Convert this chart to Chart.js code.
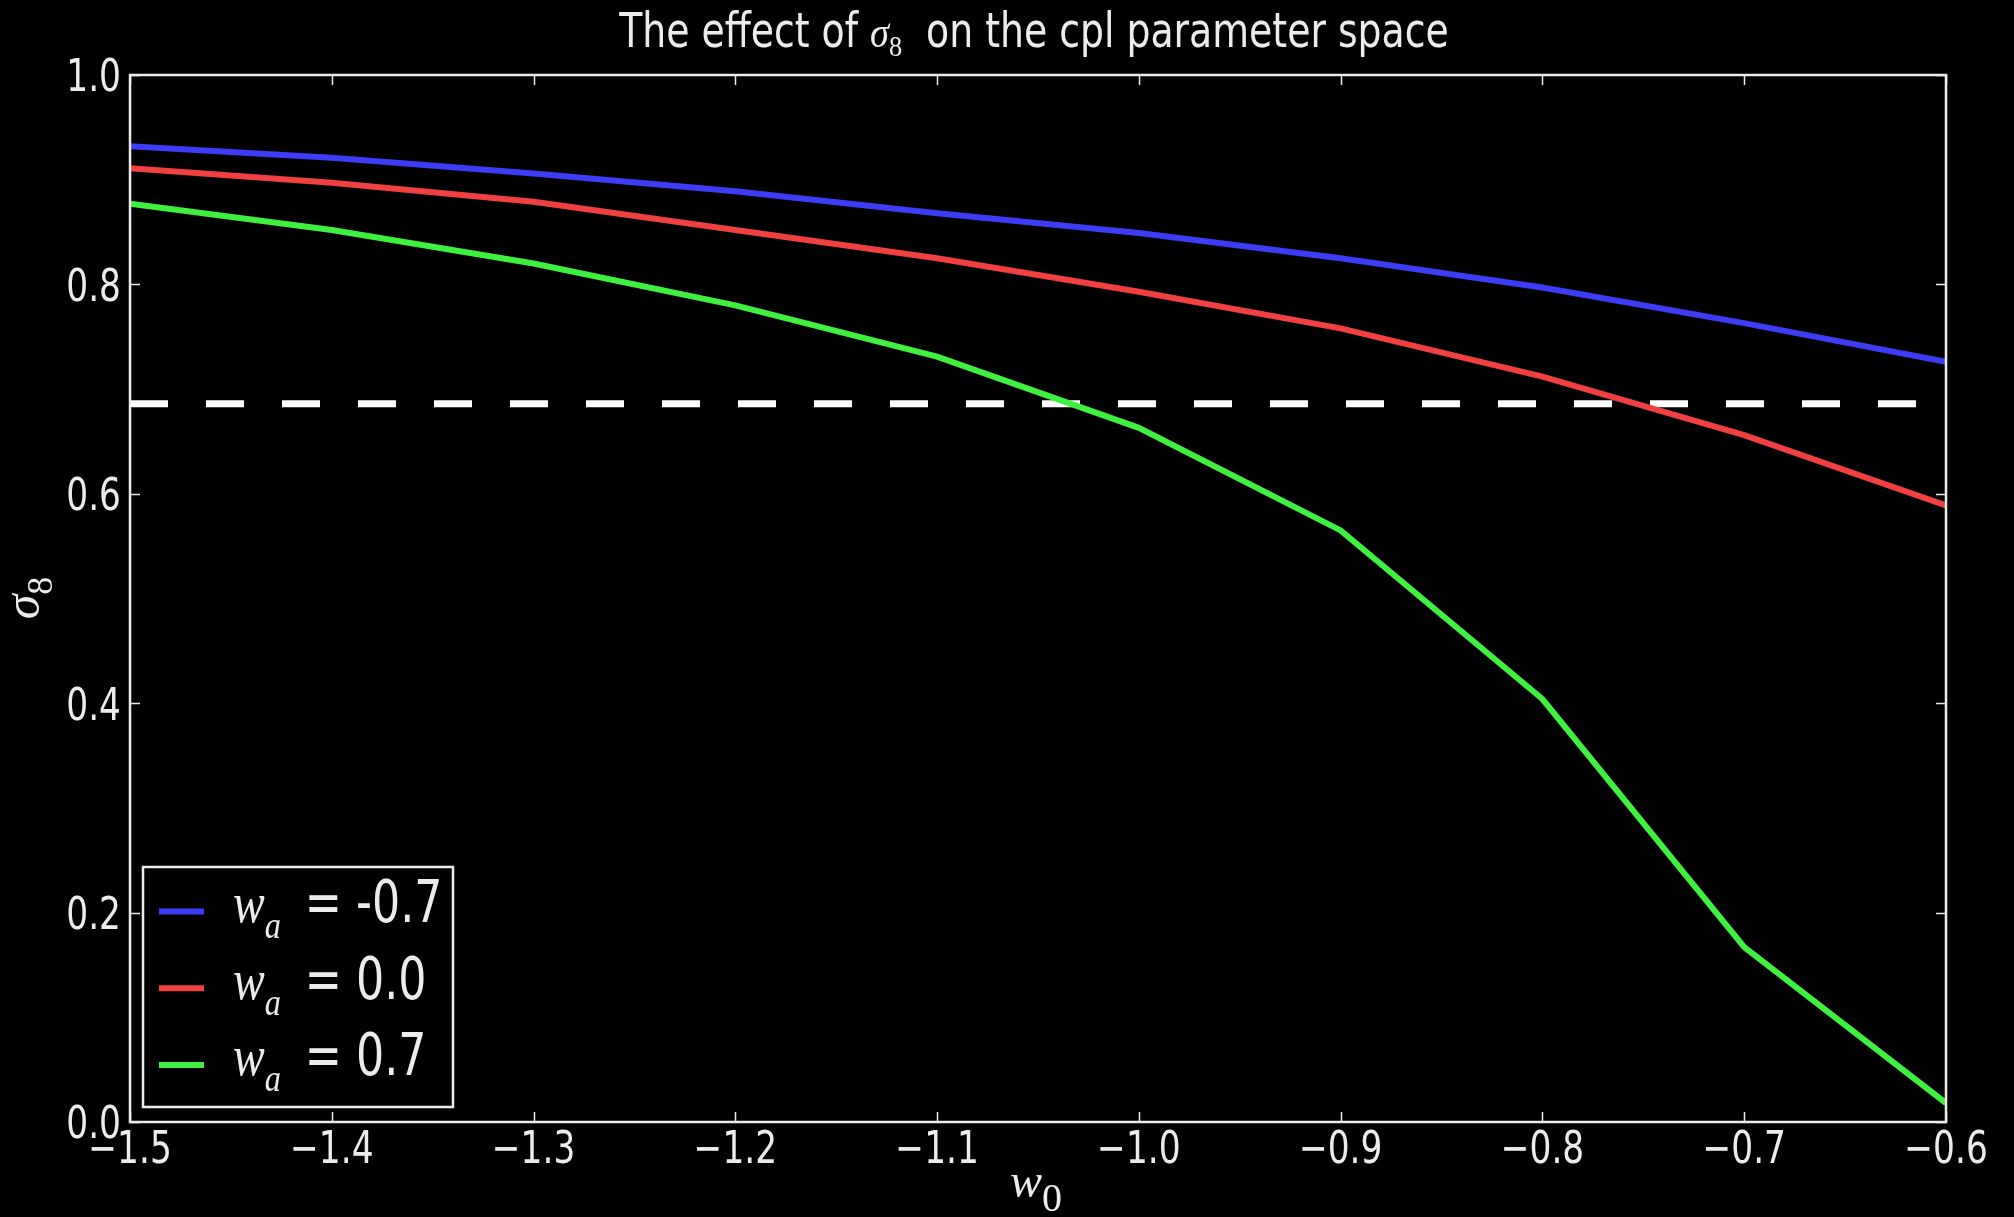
<!DOCTYPE html>
<html>
<head>
<meta charset="utf-8">
<script src="https://cdn.jsdelivr.net/npm/chart.js@4.4.1/dist/chart.umd.min.js"></script>
<style>
  html, body { margin: 0; padding: 0; background: #000; }
  #wrap { width: 2014px; height: 1217px; }
</style>
</head>
<body>
<div id="wrap"><canvas id="c" width="2014" height="1217"></canvas></div>
<script>
// w0 grid of the CPL equation of state, w(a) = w0 + wa (1 - a)
const w0Values = [-1.5, -1.4, -1.3, -1.2, -1.1, -1.0, -0.9, -0.8, -0.7, -0.6];
const waLabels = ['-0.7', '0.0', '0.7'];

// sigma_8 for each w0, one array per wa
const sigma8WaNeg07 = [0.932, 0.921, 0.906, 0.889, 0.868, 0.849, 0.825, 0.797, 0.763, 0.726];
const sigma8Wa00    = [0.911, 0.897, 0.879, 0.852, 0.825, 0.793, 0.758, 0.712, 0.656, 0.589];
const sigma8Wa07    = [0.877, 0.852, 0.820, 0.780, 0.731, 0.663, 0.565, 0.404, 0.167, 0.018];

// horizontal reference level of sigma_8
const sigma8Reference = 0.686;

const xTickValues = [-1.5, -1.4, -1.3, -1.2, -1.1, -1.0, -0.9, -0.8, -0.7, -0.6];
const yTickValues = [0.0, 0.2, 0.4, 0.6, 0.8, 1.0];

const SANS = '"DejaVu Sans Condensed", "DejaVu Sans", sans-serif';
const SERIF = '"Liberation Serif", "DejaVu Serif", serif';
const FG = '#ececec';
const seriesColors = ['#3d3df5', '#f04040', '#40f040'];
const TICK_FONT = `45px ${SANS}`;
const TICK_SQUEEZE = 0.85;

const toPoints = ys => w0Values.map((x, i) => ({ x, y: ys[i] }));
const fmtX = v => (v < 0 ? '\u2212' : '') + Math.abs(v).toFixed(1);
const fmtY = v => Number(v).toFixed(1);

// Draw a row of text runs (mixed fonts, raised/lowered pieces) with a horizontal squeeze
function drawRuns(ctx, runs, x, y, align, sx) {
  ctx.save();
  let total = 0;
  const widths = runs.map(r => {
    ctx.font = r.font;
    const w = ctx.measureText(r.text).width + (r.dx || 0);
    total += w;
    return w;
  });
  let x0 = align === 'center' ? -total / 2 : (align === 'right' ? -total : 0);
  ctx.translate(x, y);
  ctx.scale(sx, 1);
  ctx.textBaseline = 'alphabetic';
  ctx.textAlign = 'left';
  ctx.fillStyle = FG;
  runs.forEach((r, i) => {
    ctx.font = r.font;
    ctx.fillText(r.text, x0 + (r.dx || 0), r.dy || 0);
    x0 += widths[i];
  });
  ctx.restore();
}

const decorations = {
  id: 'decorations',
  afterDatasetsDraw(chart) {
    const { ctx, chartArea: a, scales } = chart;
    ctx.save();
    ctx.strokeStyle = FG;
    ctx.lineWidth = 1.5;
    // inward tick marks on all four sides
    const tl = 10;
    ctx.beginPath();
    scales.x.ticks.forEach(t => {
      const px = Math.round(scales.x.getPixelForValue(t.value)) + 0.5;
      ctx.moveTo(px, a.bottom); ctx.lineTo(px, a.bottom - tl);
      ctx.moveTo(px, a.top); ctx.lineTo(px, a.top + tl);
    });
    scales.y.ticks.forEach(t => {
      const py = Math.round(scales.y.getPixelForValue(t.value)) + 0.5;
      ctx.moveTo(a.left, py); ctx.lineTo(a.left + tl, py);
      ctx.moveTo(a.right, py); ctx.lineTo(a.right - tl, py);
    });
    ctx.stroke();
    // frame
    ctx.lineWidth = 2.5;
    ctx.strokeRect(a.left, a.top, a.right - a.left, a.bottom - a.top);
    ctx.restore();

    // tick labels (narrow face)
    const digitHalf = 0.729 * 45 / 2;
    scales.x.ticks.forEach(t => {
      const px = scales.x.getPixelForValue(t.value);
      drawRuns(ctx, [{ text: fmtX(t.value), font: TICK_FONT }], px, a.bottom + 41, 'center', TICK_SQUEEZE);
    });
    scales.y.ticks.forEach(t => {
      const py = scales.y.getPixelForValue(t.value);
      drawRuns(ctx, [{ text: fmtY(t.value), font: TICK_FONT }], a.left - 9, py + digitHalf, 'right', TICK_SQUEEZE);
    });
  },
  afterDraw(chart) {
    const { ctx, chartArea: a } = chart;
    const cx = (a.left + a.right) / 2;

    // title
    drawRuns(ctx, [
      { text: 'The effect of ', font: `48px ${SANS}` },
      { text: 'σ', font: `italic 44px ${SERIF}` },
      { text: '8', font: `30px ${SERIF}`, dy: 9 },
      { text: '  on the cpl parameter space', font: `48px ${SANS}` }
    ], cx - 4, 47, 'center', 0.875);

    // x axis label
    drawRuns(ctx, [
      { text: 'w', font: `italic 48px ${SERIF}` },
      { text: '0', font: `40px ${SERIF}`, dy: 14 }
    ], cx - 2, 1197, 'center', 1);

    // y axis label (rotated)
    ctx.save();
    ctx.translate(39, 598);
    ctx.rotate(-Math.PI / 2);
    drawRuns(ctx, [
      { text: 'σ', font: `italic 50px ${SERIF}` },
      { text: '8', font: `36px ${SERIF}`, dy: 13 }
    ], 0, 0, 'center', 1);
    ctx.restore();

    // legend
    const lx = 143, ly = 867, lw = 310, lh = 240;
    ctx.save();
    ctx.fillStyle = '#000';
    ctx.fillRect(lx, ly, lw, lh);
    ctx.strokeStyle = FG;
    ctx.lineWidth = 2.5;
    ctx.strokeRect(lx, ly, lw, lh);
    chart.data.datasets.forEach((ds, i) => {
      if (ds.hideInLegend) return;
      const rowY = 911.5 + i * 76.7;
      ctx.strokeStyle = ds.borderColor;
      ctx.lineWidth = 6;
      ctx.beginPath();
      ctx.moveTo(159, rowY); ctx.lineTo(204, rowY);
      ctx.stroke();
      drawRuns(ctx, [
        { text: 'w', font: `italic 56px ${SERIF}` },
        { text: 'a', font: `italic 38px ${SERIF}`, dy: 16 },
        { text: '=', font: `58px ${SANS}`, dx: 28 },
        { text: ' ' + waLabels[i], font: `58px ${SANS}` }
      ], 233, rowY + 10.5, 'left', 0.85);
    });
    ctx.restore();
  }
};

const lineStyle = color => ({
  borderColor: color, backgroundColor: color, borderWidth: 6,
  pointRadius: 0, tension: 0, fill: false
});

new Chart(document.getElementById('c'), {
  type: 'line',
  data: {
    datasets: [
      { label: 'wₐ = ' + waLabels[0], data: toPoints(sigma8WaNeg07), ...lineStyle(seriesColors[0]) },
      { label: 'wₐ = ' + waLabels[1], data: toPoints(sigma8Wa00), ...lineStyle(seriesColors[1]) },
      { label: 'wₐ = ' + waLabels[2], data: toPoints(sigma8Wa07), ...lineStyle(seriesColors[2]) },
      {
        label: 'reference', hideInLegend: true,
        data: [{ x: w0Values[0], y: sigma8Reference }, { x: w0Values[w0Values.length - 1], y: sigma8Reference }],
        borderColor: '#ffffff', borderWidth: 7, borderDash: [38, 38], borderCapStyle: 'butt',
        pointRadius: 0, fill: false
      }
    ]
  },
  options: {
    responsive: false,
    animation: false,
    devicePixelRatio: 1,
    layout: { padding: { left: 0, top: 75, right: 68, bottom: 0 } },
    plugins: { legend: { display: false }, title: { display: false }, tooltip: { enabled: false } },
    scales: {
      x: {
        type: 'linear', min: -1.5, max: -0.6,
        afterBuildTicks: s => { s.ticks = xTickValues.map(v => ({ value: v })); },
        afterFit: s => { s.height = 1217 - 1122; },
        grid: { display: false },
        border: { display: false },
        ticks: { display: false, callback: fmtX }
      },
      y: {
        type: 'linear', min: 0, max: 1,
        afterBuildTicks: s => { s.ticks = yTickValues.map(v => ({ value: v })); },
        afterFit: s => { s.width = 130; },
        grid: { display: false },
        border: { display: false },
        ticks: { display: false, callback: fmtY }
      }
    }
  },
  plugins: [decorations]
});
</script>
</body>
</html>
